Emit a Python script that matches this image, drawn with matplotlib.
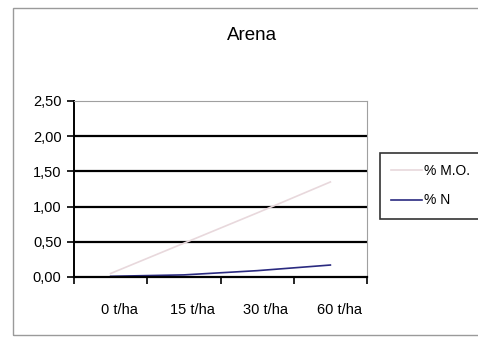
import matplotlib
matplotlib.use('Agg')
import matplotlib.pyplot as plt
from matplotlib.patches import Rectangle

# datos
dosis = ['0 t/ha', '15 t/ha', '30 t/ha', '60 t/ha']
mo = [0.05, 0.48, 0.91, 1.35]
nitrogeno = [0.01, 0.03, 0.09, 0.17]
y_ticks = [0.0, 0.5, 1.0, 1.5, 2.0, 2.5]
y_labels = ['0,00', '0,50', '1,00', '1,50', '2,00', '2,50']

plt.rcParams['font.family'] = ['Liberation Sans', 'DejaVu Sans']

fig = plt.figure(figsize=(4.78, 3.37), dpi=100)
fig.patch.set_facecolor('white')

# marco exterior del grafico
fig.patches.append(Rectangle((13 / 478, 2 / 337), 1.2, 327 / 337, transform=fig.transFigure,
                             fill=False, edgecolor='#9a9a9a', linewidth=1.0))

ax = fig.add_axes([74 / 478, 1 - 277 / 337, 293 / 478, 176 / 337])
x = list(range(len(dosis)))
ax.plot(x, mo, color='#e8d8dc', linewidth=1.2, label='% M.O.')
ax.plot(x, nitrogeno, color='#2a2a80', linewidth=1.2, label='% N')

ax.set_xlim(-0.5, len(dosis) - 0.5)
ax.set_ylim(0, 2.5)
ax.set_yticks(y_ticks)
ax.set_yticklabels(y_labels, fontsize=10.5)
ax.set_xticks([i + 0.12 for i in x])
ax.set_xticklabels(dosis, fontsize=10.5)
ax.tick_params(axis='x', length=0, pad=19)
ax.set_xticks([i + 0.5 for i in range(-1, len(dosis))], minor=True)
ax.tick_params(axis='x', which='minor', length=5, width=1.2, direction='out', color='black')
ax.tick_params(axis='y', length=5, width=1.2, direction='out', pad=4)

for v in y_ticks[1:-1]:
    ax.axhline(v, color='black', linewidth=1.6, zorder=1)

ax.spines['top'].set_color('#a0a0a0')
ax.spines['right'].set_color('#a0a0a0')
ax.spines['left'].set_linewidth(1.4)
ax.spines['bottom'].set_linewidth(1.6)

fig.text(252 / 478, 1 - 36 / 337, 'Arena', ha='center', va='center', fontsize=13.5)

leg = fig.legend(loc='upper left', bbox_to_anchor=(380 / 478, 1 - 153 / 337), fontsize=10,
                 frameon=True, fancybox=False, handlelength=2.2, borderpad=0.8,
                 labelspacing=1.1, handletextpad=0.2, borderaxespad=0)
leg.get_frame().set_edgecolor('black')
leg.get_frame().set_linewidth(1.2)

fig.savefig('out.png', dpi=100)
